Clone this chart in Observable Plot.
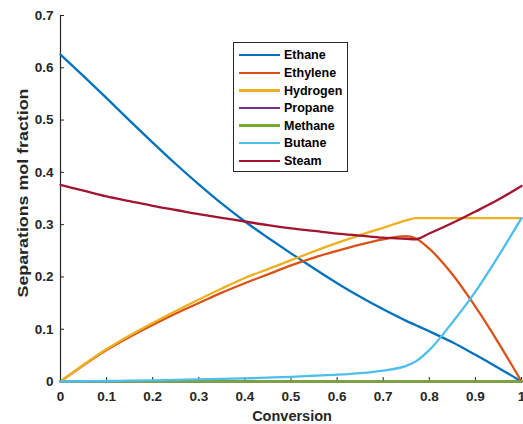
<!DOCTYPE html>
<html>
<head>
<meta charset="utf-8">
<script src="https://cdn.jsdelivr.net/npm/d3@7"></script>
<script src="https://cdn.jsdelivr.net/npm/@observablehq/plot@0.6"></script>
<style>
  body { margin: 0; background: #fff; }
  #wrap { position: relative; width: 523px; height: 424px; }
  #legend {
    position: absolute; left: 233px; top: 42px; width: 115px; height: 130px;
    box-sizing: border-box; border: 1px solid #262626; background: #fff;
    font: bold 12.5px "Liberation Sans", Arial, sans-serif; color: #000;
  }
  .row { position: absolute; left: 0; height: 17.6px; width: 100%; }
  .row .sw { position: absolute; left: 5px; width: 41px; top: 7.6px; height: 2.4px; }
  .row .lb { position: absolute; left: 50px; top: 1px; line-height: 16px; white-space: nowrap; }
</style>
</head>
<body>
<div id="wrap"><div id="chart"></div><div id="legend"></div></div>
<script>
const conversion = [0, 0.05, 0.1, 0.15, 0.2, 0.25, 0.3, 0.35, 0.4, 0.45, 0.5, 0.55, 0.6, 0.65, 0.7, 0.75, 0.77, 0.8, 0.85, 0.9, 0.95, 1];
const ethane   = [0.625, 0.584, 0.542, 0.499, 0.457, 0.416, 0.377, 0.340, 0.306, 0.275, 0.245, 0.216, 0.188, 0.162, 0.138, 0.116, 0.108, 0.096, 0.075, 0.051, 0.026, 0];
const ethylene = [0, 0.031, 0.060, 0.085, 0.108, 0.130, 0.150, 0.170, 0.188, 0.205, 0.222, 0.237, 0.250, 0.262, 0.272, 0.278, 0.274, 0.254, 0.205, 0.143, 0.074, 0];
const hydrogen = [0, 0.032, 0.062, 0.088, 0.112, 0.135, 0.157, 0.178, 0.198, 0.215, 0.232, 0.249, 0.265, 0.280, 0.294, 0.308, 0.3125, 0.3125, 0.3125, 0.3125, 0.3125, 0.3125];
const propane  = [0, 0, 0, 0, 0, 0, 0, 0, 0, 0, 0, 0, 0, 0, 0, 0, 0, 0, 0, 0, 0, 0];
const methane  = [0, 0, 0, 0, 0, 0, 0, 0, 0, 0, 0, 0, 0, 0, 0, 0, 0, 0, 0, 0, 0, 0];
const butane   = [0, 0.0005, 0.001, 0.0015, 0.002, 0.003, 0.004, 0.005, 0.006, 0.0075, 0.009, 0.011, 0.013, 0.016, 0.021, 0.030, 0.038, 0.060, 0.113, 0.172, 0.240, 0.3125];
const steam    = [0.376, 0.365, 0.354, 0.345, 0.336, 0.328, 0.320, 0.313, 0.306, 0.299, 0.293, 0.288, 0.283, 0.279, 0.275, 0.273, 0.272, 0.283, 0.303, 0.325, 0.348, 0.374];

const seriesNames  = ["Ethane", "Ethylene", "Hydrogen", "Propane", "Methane", "Butane", "Steam"];
const seriesColors = ["#0072BD", "#D95319", "#EDB120", "#7E2F8E", "#77AC30", "#4DBEEE", "#A2142F"];
const seriesValues = [ethane, ethylene, hydrogen, propane, methane, butane, steam];

const xTicks = [0, 0.1, 0.2, 0.3, 0.4, 0.5, 0.6, 0.7, 0.8, 0.9, 1];
const xTickLabels = ["0", "0.1", "0.2", "0.3", "0.4", "0.5", "0.6", "0.7", "0.8", "0.9", "1"];
const yTicks = [0, 0.1, 0.2, 0.3, 0.4, 0.5, 0.6, 0.7];
const yTickLabels = ["0", "0.1", "0.2", "0.3", "0.4", "0.5", "0.6", "0.7"];
const xTitle = "Conversion";
const yTitle = "Separations mol fraction";

const rows = [];
seriesNames.forEach((name, s) => {
  conversion.forEach((x, i) => rows.push({series: name, x, y: seriesValues[s][i]}));
});

const axisColor = "#262626";
const chart = Plot.plot({
  width: 523,
  height: 424,
  marginLeft: 60,
  marginRight: 2,
  marginTop: 15,
  marginBottom: 43,
  style: {fontFamily: '"Liberation Sans", Arial, sans-serif', fontSize: "13.5px", fontWeight: "bold", color: axisColor, background: "#fff"},
  x: {domain: [0, 1]},
  y: {domain: [0, 0.7]},
  color: {domain: seriesNames, range: seriesColors},
  marks: [
    Plot.axisX({ticks: xTicks, tickSize: 0, tickPadding: 10, tickFormat: d => xTickLabels[xTicks.indexOf(d)], label: null}),
    Plot.axisY({ticks: yTicks, tickSize: 0, tickPadding: 7, tickFormat: d => yTickLabels[yTicks.indexOf(d)], label: null}),
    Plot.axisX({ticks: xTicks, tickSize: -4, tickFormat: () => "", label: null, stroke: axisColor}),
    Plot.axisY({ticks: yTicks, tickSize: -4, tickFormat: () => "", label: null, stroke: axisColor}),
    Plot.ruleX([0], {stroke: axisColor, strokeWidth: 1.2}),
    Plot.ruleY([0], {stroke: axisColor, strokeWidth: 1.2}),
    Plot.text([xTitle], {frameAnchor: "bottom", lineAnchor: "middle", dx: 1, dy: 35, fontSize: 14.5, fontWeight: "bold", fill: axisColor}),
    Plot.text([yTitle], {frameAnchor: "left", textAnchor: "start", lineAnchor: "middle", dx: -37, dy: 99, rotate: -90, fontSize: 14, fontWeight: "bold", fill: axisColor}),
    Plot.line(rows, {x: "x", y: "y", z: "series", stroke: "series", strokeWidth: 2.3, curve: "monotone-x"})
  ]
});
document.getElementById("chart").appendChild(chart);
// stretch the y title along its length, as in the reference
chart.querySelectorAll("text").forEach(t => {
  if (t.textContent === yTitle) {
    t.setAttribute("textLength", "209");
    t.setAttribute("lengthAdjust", "spacingAndGlyphs");
  }
});

const legend = document.getElementById("legend");
seriesNames.forEach((name, i) => {
  const row = document.createElement("div");
  row.className = "row";
  row.style.top = (3.4 + i * 17.6) + "px";
  row.innerHTML = `<div class="sw" style="background:${seriesColors[i]}"></div><div class="lb">${name}</div>`;
  legend.appendChild(row);
});
</script>
</body>
</html>
